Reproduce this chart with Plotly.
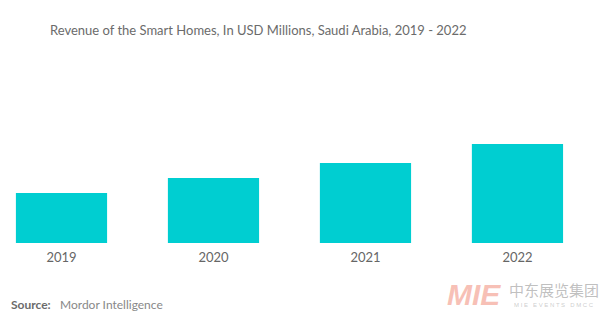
import plotly.graph_objects as go

years = ["2019", "2020", "2021", "2022"]
revenue = [50, 65, 80, 99]  # relative bar heights

title_text = "Revenue of the Smart Homes, In USD Millions, Saudi Arabia, 2019 - 2022"
source_label = "Source:"
source_text = "Mordor Intelligence"

PLOT_TOP, PLOT_BOTTOM = 60, 243


def px_ann(text, x, y, font, xanchor="left"):
    return dict(text=text, x=x / 600, y=(PLOT_BOTTOM - y) / (PLOT_BOTTOM - PLOT_TOP),
                xref="paper", yref="paper", showarrow=False,
                xanchor=xanchor, yanchor="middle", font=font)


fig = go.Figure(go.Bar(
    x=years, y=revenue, width=0.6,
    marker=dict(color="#00CED1", line=dict(width=0)),
    hoverinfo="skip",
))

fig.update_layout(
    width=600, height=328,
    margin=dict(l=0, r=0, t=PLOT_TOP, b=328 - PLOT_BOTTOM),
    paper_bgcolor="white", plot_bgcolor="white",
    showlegend=False,
    xaxis=dict(type="category", range=[-0.4046, 3.543], showgrid=False, zeroline=False,
               showline=False, ticks="", ticklabelstandoff=5,
               tickfont=dict(family="Lato", size=13, color="#666666")),
    yaxis=dict(range=[0, 183], visible=False),
    annotations=[
        px_ann(title_text, 48, 30, dict(family="Lato", size=13, color="#6b6b6b")),
        px_ann("<b>" + source_label + "</b>", 9, 304, dict(family="Lato", size=12, color="#6b6b6b")),
        px_ann(source_text, 58, 304, dict(family="Lato", size=12, color="#888888")),
        px_ann("<b><i>MIE</i></b>", 445, 294, dict(family="Liberation Sans", size=30, color="rgba(240,130,110,0.5)")),
        px_ann("中东展览集团", 507, 289, dict(family="Noto Sans CJK SC", size=15, color="rgba(150,150,150,0.6)")),
        px_ann("M I E   E V E N T S   D M C C", 596, 305,
               dict(family="Liberation Sans", size=6, color="rgba(170,170,170,0.6)"), xanchor="right"),
    ],
)

fig.write_html("out.html")
